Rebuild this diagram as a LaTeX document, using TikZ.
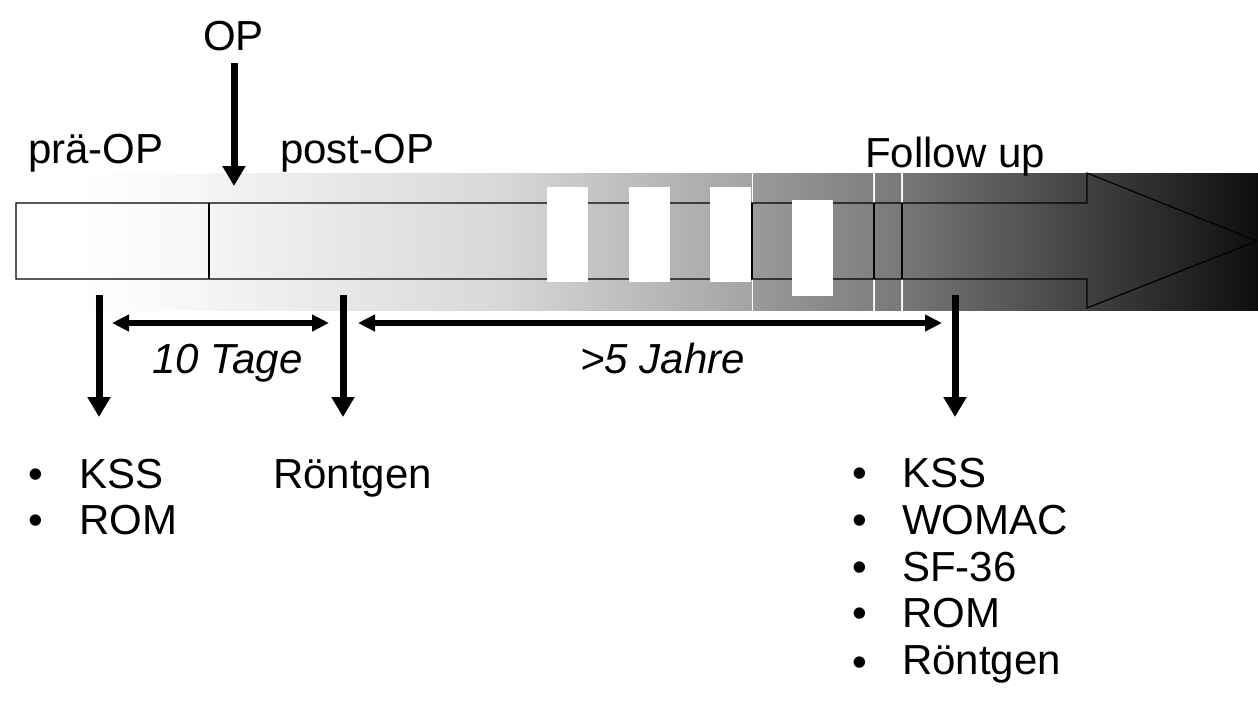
\documentclass[tikz,border=0pt]{standalone}
\usepackage{fontspec}
\setmainfont{Liberation Sans}
\usetikzlibrary{arrows.meta}
\definecolor{cA}{gray}{1.0}
\definecolor{cB}{gray}{0.965}
\definecolor{cC}{gray}{0.957}
\definecolor{cD}{gray}{0.847}
\definecolor{cE}{gray}{0.643}
\definecolor{cF}{gray}{0.604}
\definecolor{cG}{gray}{0.502}
\definecolor{cH}{gray}{0.494}
\definecolor{cI}{gray}{0.474}
\definecolor{cJ}{gray}{0.467}
\definecolor{cK}{gray}{0.055}
\tikzset{
  lbl/.style={inner sep=0pt, anchor=base west, font=\fontsize{42}{50}\selectfont},
  ilbl/.style={lbl, font=\fontsize{42}{50}\selectfont\itshape},
  bul/.style={inner sep=0pt, anchor=base, font=\fontsize{42}{50}\selectfont},
  downarrow/.style={line width=7pt, -{Triangle[width=22pt,length=20pt]}},
  spanarrow/.style={line width=6pt, {Triangle[width=16pt,length=17pt]}-{Triangle[width=16pt,length=17pt]}},
  outline/.style={line width=1.2pt, black},
  whitebox/.style={fill=white, draw=none}
}
\begin{document}
\begin{tikzpicture}[x=1pt,y=-1pt]
\useasboundingbox (0,0) rectangle (1258,702);
% gradient background segments
\shade[left color=cA, right color=cB] (78,173) rectangle (209.5,310);
\shade[left color=cC, right color=cD] (209.5,173) rectangle (500,310);
\shade[left color=cD, right color=cE] (499.5,173) rectangle (751.5,310);
\shade[left color=cF, right color=cG] (753,173) rectangle (873,310);
\shade[left color=cH, right color=cI] (875,173) rectangle (901,310);
\shade[left color=cJ, right color=cK] (903,173) rectangle (1258,310);
% timeline arrow outline
\draw[outline] (16,203) -- (1087,203) -- (1087,173) -- (1257,241) -- (1087,308) -- (1087,279) -- (16,279) -- cycle;
\draw[outline] (209,203) -- (209,279);
\draw[outline] (752,203) -- (752,279);
\draw[outline] (874,203) -- (874,279);
\draw[outline] (902,203) -- (902,279);
% white blocks
\fill[whitebox] (547,187) rectangle (588,282);
\fill[whitebox] (629,187) rectangle (670,282);
\fill[whitebox] (710,187) rectangle (751,282);
\fill[whitebox] (792,200) rectangle (833,296);
% labels
\node[lbl] (op) at (203,50) {OP};
\node[lbl] (pre) at (28,163) {prä-OP};
\node[lbl] (post) at (280,163) {post-OP};
\node[lbl] (fu) at (865,167) {Follow up};
\node[ilbl] (tage) at (152,373) {10 Tage};
\node[ilbl] (jahre) at (580,373) {>5 Jahre};
% coordinates for arrows
\coordinate (opS) at (234,63);
\coordinate (opE) at (234,186);
\coordinate (aS) at (99,295);
\coordinate (aE) at (99,417);
\coordinate (bS) at (343,295);
\coordinate (bE) at (343,417);
\coordinate (cS) at (955,295);
\coordinate (cE2) at (955,417);
\coordinate (t1) at (112,323);
\coordinate (t2) at (329,323);
\coordinate (j1) at (358,323);
\coordinate (j2) at (942,323);
\draw[downarrow] (opS) -- (opE);
\draw[downarrow] (aS) -- (aE);
\draw[downarrow] (bS) -- (bE);
\draw[downarrow] (cS) -- (cE2);
\draw[spanarrow] (t1) -- (t2);
\draw[spanarrow] (j1) -- (j2);
% left lists
\node[bul] (lb1) at (36,488) {•};
\node[bul] (lb2) at (36,534) {•};
\node[lbl] (lk) at (79,488) {KSS};
\node[lbl] (lr) at (79,534) {ROM};
\node[lbl] (mr) at (273,488) {Röntgen};
% right list
\node[bul] (rb1) at (860,487) {•};
\node[bul] (rb2) at (860,534) {•};
\node[bul] (rb3) at (860,581) {•};
\node[bul] (rb4) at (860,627) {•};
\node[bul] (rb5) at (860,676) {•};
\node[lbl] (r1) at (902,487) {KSS};
\node[lbl] (r2) at (902,534) {WOMAC};
\node[lbl] (r3) at (902,581) {SF-36};
\node[lbl] (r4) at (902,627) {ROM};
\node[lbl] (r5) at (902,674) {Röntgen};
\end{tikzpicture}
\end{document}
